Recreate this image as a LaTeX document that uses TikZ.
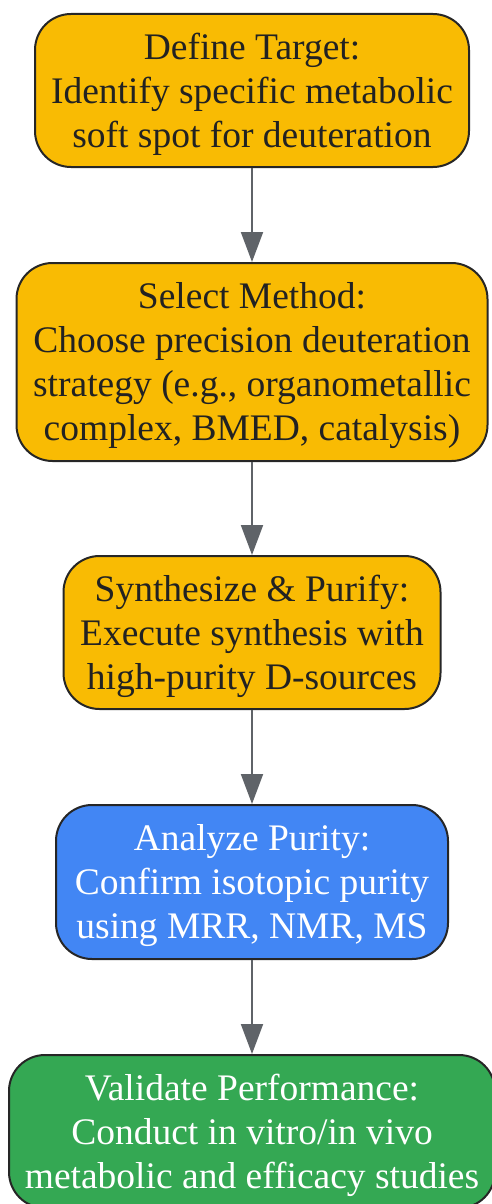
\documentclass[tikz,border=0pt]{standalone}
\usepackage{fontspec}
\setmainfont{Liberation Serif}
\usetikzlibrary{arrows.meta}
\definecolor{orangefill}{HTML}{F9BB03}
\definecolor{bluefill}{HTML}{4286F4}
\definecolor{greenfill}{HTML}{34A853}
\definecolor{edgegray}{HTML}{5F6368}
\definecolor{borderdark}{HTML}{262626}
\definecolor{textdark}{HTML}{222222}
\begin{document}
\begin{tikzpicture}[x=1pt,y=1pt,
  box/.style={draw=borderdark, line width=2pt, rounded corners=36pt, inner sep=0pt},
  orangebox/.style={box, fill=orangefill},
  bluebox/.style={box, fill=bluefill},
  greenbox/.style={box, fill=greenfill},
  txt/.style={align=center, inner sep=0pt, yshift=-4pt, font=\fontsize{37.5}{44}\selectfont},
  darktxt/.style={txt, text=textdark},
  lighttxt/.style={txt, text=white},
  flow/.style={draw=edgegray, line width=2pt, -{Triangle[length=30pt,width=22pt]}}]
\useasboundingbox (0,0) rectangle (491,-1204);
\node[orangebox, minimum width=434pt, minimum height=153pt] (n1) at (252,-90.5) {};
\node[darktxt] (t1) at (n1.center)
  {Define Target:\\Identify specific metabolic\\soft spot for deuteration};
\node[orangebox, minimum width=471pt, minimum height=198pt] (n2) at (252,-362) {};
\node[darktxt] (t2) at (n2.center)
  {Select Method:\\Choose precision deuteration\\strategy (e.g., organometallic\\complex, BMED, catalysis)};
\node[orangebox, minimum width=377pt, minimum height=153pt] (n3) at (252,-632.5) {};
\node[darktxt] (t3) at (n3.center)
  {Synthesize \& Purify:\\Execute synthesis with\\high-purity D-sources};
\node[bluebox, minimum width=392pt, minimum height=154pt] (n4) at (252,-882) {};
\node[lighttxt] (t4) at (n4.center)
  {Analyze Purity:\\Confirm isotopic purity\\using MRR, NMR, MS};
\node[greenbox, minimum width=486pt, minimum height=153pt] (n5) at (252,-1131.5) {};
\node[lighttxt] (t5) at (n5.center)
  {Validate Performance:\\Conduct in vitro/in vivo\\metabolic and efficacy studies};
\draw[flow] (n1.south) -- (n2.north);
\draw[flow] (n2.south) -- (n3.north);
\draw[flow] (n3.south) -- (n4.north);
\draw[flow] (n4.south) -- (n5.north);
\end{tikzpicture}
\end{document}
